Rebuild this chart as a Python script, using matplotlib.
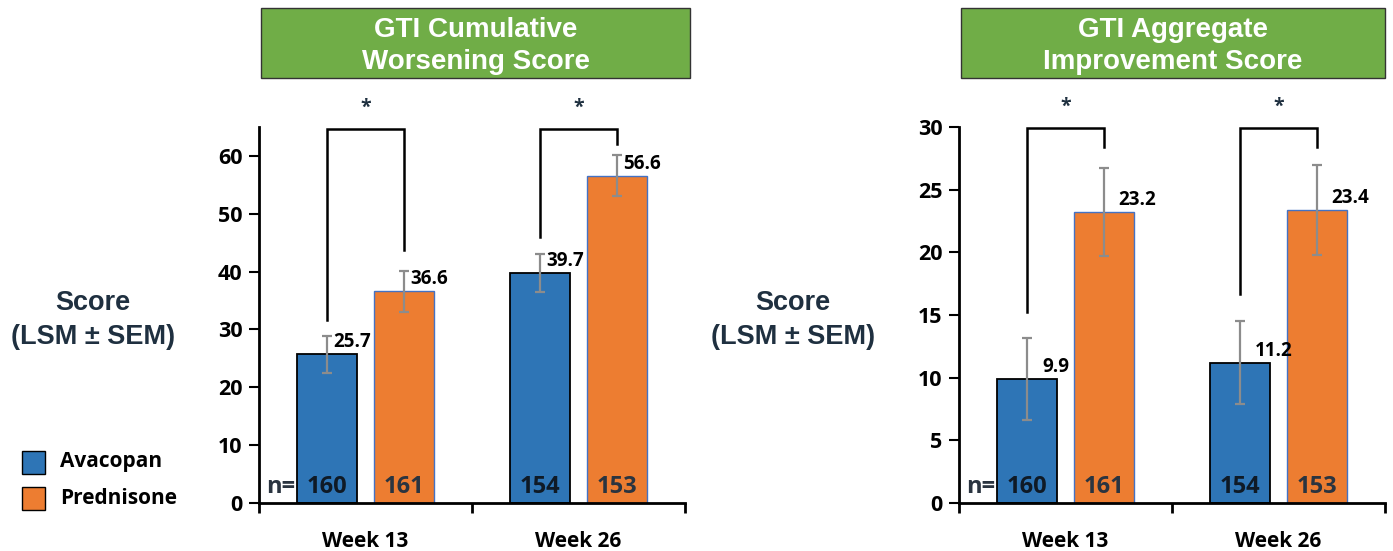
import matplotlib.pyplot as plt
from matplotlib.patches import Rectangle

# ---- data -------------------------------------------------------------
weeks = ["Week 13", "Week 26"]
groups = ["Avacopan", "Prednisone"]

worsen_avacopan = [25.7, 39.7]
worsen_prednisone = [36.6, 56.6]
worsen_sem_avacopan = [3.2, 3.3]
worsen_sem_prednisone = [3.5, 3.6]

improve_avacopan = [9.9, 11.2]
improve_prednisone = [23.2, 23.4]
improve_sem_avacopan = [3.25, 3.3]
improve_sem_prednisone = [3.5, 3.6]

n_avacopan = [160, 154]
n_prednisone = [161, 153]

# bracket leg bottoms (avacopan leg, prednisone leg) per week
worsen_brackets = [(31.6, 43.7), (46.0, 62.0)]
improve_brackets = [(15.2, 28.4), (16.7, 28.4)]

# ---- style ------------------------------------------------------------
BLUE = "#2E75B6"
ORANGE = "#ED7D31"
GREEN = "#70AD47"
SLATE = "#1F3040"
GREY = "#8C8C8C"
NUM_FONT = ["Open Sans", "DejaVu Sans"]
HEAD_FONT = ["Liberation Sans Narrow", "Liberation Sans", "DejaVu Sans"]

W, H = 1393, 551
fig = plt.figure(figsize=(W / 100, H / 100), dpi=100)
fig.patch.set_facecolor("white")

BW, OFF = 0.28, 0.18


def panel(left_px, ymax, yticks, ava, pred, sem_a, sem_p, brackets, lbl_dx):
    ax = fig.add_axes([left_px / W, 48 / H, 426 / W, 376 / H])
    x = list(range(len(weeks)))
    xa = [i - OFF for i in x]
    xp = [i + OFF for i in x]
    ax.bar(xa, ava, BW, color=BLUE, edgecolor="black", linewidth=1.3, zorder=2)
    ax.bar(xp, pred, BW, color=ORANGE, edgecolor="#4472C4", linewidth=1.0, zorder=2)
    ax.errorbar(xa, ava, yerr=sem_a, fmt="none", ecolor=GREY, elinewidth=1.6,
                capsize=3.5, capthick=1.6, zorder=3)
    ax.errorbar(xp, pred, yerr=sem_p, fmt="none", ecolor=GREY, elinewidth=1.6,
                capsize=3.5, capthick=1.6, zorder=3)

    px = ymax / 376.0  # data units per pixel
    for xs, vals in ((xa, ava), (xp, pred)):
        for xi, v in zip(xs, vals):
            ax.text(xi + lbl_dx, v + 12 * px, f"{v:.1f}", ha="left", va="center",
                    fontsize=13.5, weight="bold", color="black", family=NUM_FONT, zorder=4)

    # n per bar
    for xs, ns, col in ((xa, n_avacopan, "#0f1a26"), (xp, n_prednisone, "#2a3440")):
        for xi, n in zip(xs, ns):
            ax.text(xi, 16 * px, str(n), ha="center", va="center", fontsize=17,
                    weight="bold", color=col, family=NUM_FONT, zorder=4)
    ax.text(xa[0] - BW / 2 - 0.012, 16 * px, "n=", ha="right", va="center", fontsize=17,
            weight="bold", color="#2a3440", family=NUM_FONT)

    # significance brackets
    top = ymax * (1 - 1 / 376.0) if ymax == 30 else 64.7
    for i, (b1, b2) in enumerate(brackets):
        ax.plot([xa[i], xa[i], xp[i], xp[i]], [b1, top, top, b2], color="black",
                lw=1.8, clip_on=False, zorder=4, solid_joinstyle="miter")
        ax.text(i, top + 21 * px, "*", ha="center", va="center", fontsize=14,
                weight="bold", color=SLATE, clip_on=False, family=NUM_FONT)

    ax.set_xlim(-0.5, len(weeks) - 0.5)
    ax.set_ylim(0, ymax)
    ax.set_yticks(yticks)
    ax.set_yticklabels([str(t) for t in yticks], family=NUM_FONT, fontsize=15.5, weight="bold")
    ax.set_xticks([-0.5, 0.5, 1.5])
    ax.set_xticklabels([])
    ax.set_xticks(x, minor=True)
    ax.set_xticklabels(weeks, minor=True, family=NUM_FONT, fontsize=15, weight="bold")
    ax.tick_params(axis="x", which="minor", length=0, pad=20)
    ax.tick_params(axis="x", which="major", length=7, width=2, direction="out")
    ax.tick_params(axis="y", length=7, width=1.5, direction="out", pad=5)
    for s in ("top", "right"):
        ax.spines[s].set_visible(False)
    for s in ("left", "bottom"):
        ax.spines[s].set_linewidth(2)
    return ax


ax1 = panel(259, 65, list(range(0, 61, 10)), worsen_avacopan, worsen_prednisone,
            worsen_sem_avacopan, worsen_sem_prednisone, worsen_brackets, 0.03)
ax2 = panel(959, 30, list(range(0, 31, 5)), improve_avacopan, improve_prednisone,
            improve_sem_avacopan, improve_sem_prednisone, improve_brackets, 0.07)


# ---- header boxes -----------------------------------------------------
def header(x0, x1, text):
    fig.patches.append(Rectangle((x0 / W, 1 - 78 / H), (x1 - x0) / W, 70 / H,
                                 transform=fig.transFigure, facecolor=GREEN,
                                 edgecolor="#333333", linewidth=1.0))
    fig.text((x0 + x1) / 2 / W, 1 - 46 / H, text, ha="center", va="center",
             fontsize=20, weight="bold", color="white", family=HEAD_FONT,
             linespacing=1.3)


header(261, 690, "GTI Cumulative\nWorsening Score")
header(961, 1385, "GTI Aggregate\nImprovement Score")

# ---- y labels ---------------------------------------------------------
for cx in (93, 793):
    fig.text(cx / W, 1 - 320 / H, "Score\n(LSM \u00b1 SEM)", ha="center", va="center",
             fontsize=19.5, weight="bold", color=SLATE, family=["Liberation Sans", "DejaVu Sans"],
             linespacing=1.38)

# ---- legend -----------------------------------------------------------
for i, (g, c) in enumerate(zip(groups, [BLUE, ORANGE])):
    yc = 462 + 36 * i
    fig.patches.append(Rectangle((22 / W, 1 - (yc + 11.5) / H), 23 / W, 23 / H,
                                 transform=fig.transFigure, facecolor=c,
                                 edgecolor="black", linewidth=1.0))
    fig.text(60 / W, 1 - yc / H, g, ha="left", va="center", fontsize=15,
             weight="bold", color="black", family=NUM_FONT)

fig.savefig("out.png", dpi=100, facecolor="white")
